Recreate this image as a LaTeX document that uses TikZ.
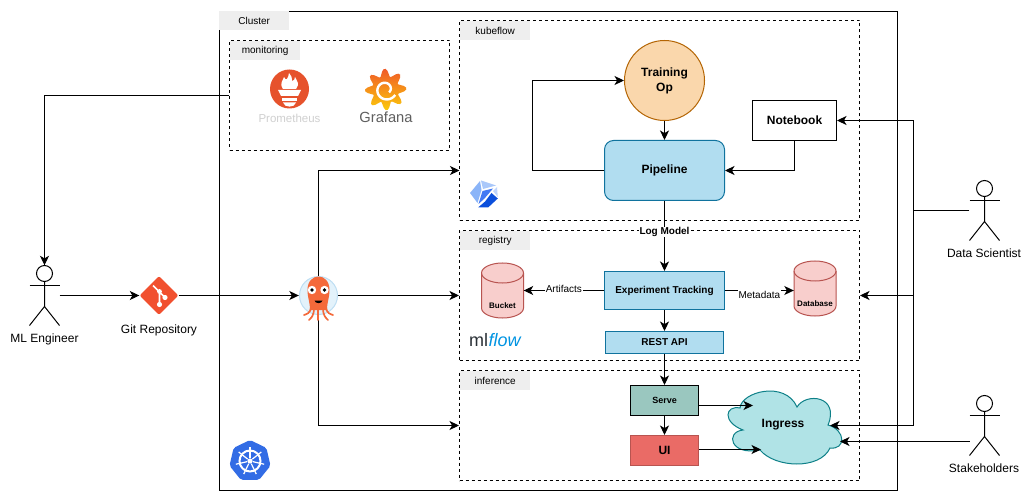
\documentclass[tikz,border=0pt]{standalone}
\usepackage{fontspec}
\setmainfont{Liberation Sans}
\usetikzlibrary{arrows.meta,shapes.geometric,calc}
\newcommand\fsz[1]{\fontsize{#1}{15}\selectfont}
\definecolor{tagbg}{HTML}{EEEEEE}
\definecolor{pipefill}{HTML}{B1DDF0}
\definecolor{pipeedge}{HTML}{10739E}
\definecolor{redfill}{HTML}{F8CECC}
\definecolor{redline}{HTML}{B85450}
\definecolor{cloudfill}{RGB}{176,227,230}
\definecolor{cloudedge}{RGB}{14,128,136}
\definecolor{trainfill}{RGB}{250,215,172}
\definecolor{trainedge}{RGB}{180,101,4}
\definecolor{servefill}{RGB}{154,199,191}
\definecolor{uifill}{RGB}{234,107,102}
\definecolor{gitred}{RGB}{241,80,47}
\definecolor{helmet}{RGB}{227,242,251}
\definecolor{helmetedge}{RGB}{190,222,243}
\definecolor{argoorange}{RGB}{244,105,58}
\definecolor{promred}{RGB}{230,82,44}
\definecolor{promtext}{RGB}{208,208,208}
\definecolor{grafred}{RGB}{240,90,40}
\definecolor{grafyellow}{RGB}{251,202,10}
\definecolor{graftext}{RGB}{95,95,95}
\definecolor{kfa}{RGB}{138,180,248}
\definecolor{kfb}{RGB}{170,200,250}
\definecolor{kfc}{RGB}{190,212,252}
\definecolor{kfd}{RGB}{66,121,244}
\definecolor{kfe}{RGB}{11,79,220}
\definecolor{kubeblue}{RGB}{50,108,229}
\definecolor{mlgrey}{HTML}{2B3137}
\definecolor{mlblue}{HTML}{0194E2}
\tikzset{
  conn/.style={draw=black,line width=1pt,-{Stealth[length=9.5pt,width=9pt,inset=2.6pt]}},
  plainline/.style={draw=black,line width=1pt},
  region/.style={draw=black,line width=1pt,dash pattern=on 3pt off 3pt,inner sep=0pt},
  tag/.style={fill=tagbg,minimum width=70pt,minimum height=19pt,inner sep=0pt,font=\fsz{10}},
  boxbase/.style={line width=1pt,inner sep=0pt,align=center},
  bluebox/.style={boxbase,fill=pipefill,draw=pipeedge},
  edgelabel/.style={fill=white,inner sep=1pt,font=\fsz{10}},
  caption/.style={font=\fsz{12},inner sep=0pt},
  actorbox/.style={minimum width=30pt,minimum height=60pt,inner sep=0pt},
  actorline/.style={draw=black,line width=1pt},
  cyl/.style={fill=redfill,draw=redline,line width=1pt},
}
% actor: name, centre x, top y
\newcommand\actorfig[3]{%
  \node[actorbox] (#1) at (#2,#3+30) {};
  \draw[actorline] (#2,#3+8) circle[radius=8pt];
  \draw[actorline] (#2-15,#3+20) -- (#2+15,#3+20);
  \draw[actorline] (#2,#3+16) -- (#2,#3+41) (#2-15,#3+60) -- (#2,#3+41) -- (#2+15,#3+60);
}
% cylinder: name, centre x, centre y, label
\newcommand\dbcyl[4]{%
  \node[minimum width=42pt,minimum height=55pt,inner sep=0pt] (#1) at (#2,#3) {};
  \draw[cyl] (#2-21,#3-17.5) arc[start angle=180,end angle=0,x radius=21pt,y radius=10pt]
     -- (#2+21,#3+17.5) arc[start angle=0,end angle=-180,x radius=21pt,y radius=10pt] -- cycle;
  \draw[cyl,fill=none] (#2-21,#3-17.5) arc[start angle=180,end angle=360,x radius=21pt,y radius=10pt];
  \node[font=\bfseries\fsz{8},inner sep=0pt] (#1text) at (#2,#3+15) {#4};
}
\begin{document}
\begin{tikzpicture}[x=1pt,y=-1pt]
\useasboundingbox (0,0) rectangle (1032,502);
\fill[white] (0,0) rectangle (1032,502);

% containers
\node[draw=black,line width=1pt,minimum width=678pt,minimum height=479pt,inner sep=0pt] (cluster) at (558.5,251) {};
\node[tag,anchor=north west] (clustertag) at (219,11) {Cluster};
\node[region,minimum width=220pt,minimum height=110pt] (monitoring) at (339.5,95.5) {};
\node[tag,anchor=north west] (monitoringtag) at (230,41) {monitoring};
\node[region,minimum width=400pt,minimum height=200pt] (kubeflow) at (659.5,120.5) {};
\node[tag,anchor=north west] (kubeflowtag) at (460,21) {kubeflow};
\node[region,minimum width=400pt,minimum height=130pt] (registry) at (659.5,295.5) {};
\node[tag,anchor=north west] (registrytag) at (460,231) {registry};
\node[region,minimum width=400pt,minimum height=110pt] (inference) at (659.5,425.5) {};
\node[tag,anchor=north west] (inferencetag) at (460,371) {inference};

% ingress cloud
\draw[fill=cloudfill,draw=cloudedge,line width=1pt]
  (740,408) .. controls (741,392) and (785,380) .. (797,407)
  .. controls (806,392) and (840,396) .. (828,425)
  .. controls (846,430) and (846,450) .. (830,448)
  .. controls (820,470) and (775,468) .. (760,450)
  .. controls (730,456) and (725,432) .. (743,430)
  .. controls (722,422) and (725,405) .. (740,408) -- cycle;
\node[font=\bfseries\fsz{12},inner sep=0pt] (ingress) at (783,425) {Ingress};
\coordinate (ingressA) at (753,405.5);
\coordinate (ingressB) at (761,449.5);
\coordinate (ingressC) at (830,425.5);
\coordinate (ingressD) at (840,441.5);

% nodes
\node[boxbase,circle,minimum size=80pt,fill=trainfill,draw=trainedge,font=\bfseries\fsz{12}] (training) at (664.5,80.5) {\raisebox{-1.5pt}{Training}\\\raisebox{-1.5pt}{Op}};
\node[bluebox,rounded corners=9pt,minimum width=120pt,minimum height=60pt,font=\bfseries\fsz{12}] (pipeline) at (664.5,170.5) {Pipeline};
\node[boxbase,draw=black,fill=white,minimum width=84pt,minimum height=40pt,font=\bfseries\fsz{12}] (notebook) at (794.5,120.5) {Notebook};
\node[bluebox,minimum width=120pt,minimum height=38pt,font=\bfseries\fsz{10}] (exp) at (664.5,290.5) {Experiment Tracking};
\node[bluebox,minimum width=118pt,minimum height=22pt,font=\bfseries\fsz{10}] (rest) at (664.5,342.5) {REST API};
\node[boxbase,draw=black,fill=servefill,minimum width=68pt,minimum height=30pt,font=\bfseries\fsz{9}] (serve) at (664.5,400.5) {Serve};
\node[boxbase,draw=redline,fill=uifill,minimum width=68pt,minimum height=30pt,font=\bfseries\fsz{12}] (ui) at (664.5,450.5) {UI};
\dbcyl{bucket}{502.5}{290.5}{Bucket}
\dbcyl{database}{815}{288.5}{Database}

\actorfig{ml}{44.5}{265.5}
\node[caption] (mltext) at (44.5,339) {ML Engineer};
\actorfig{ds}{984.5}{180.5}
\node[caption] (dstext) at (984,253) {Data Scientist};
\actorfig{sh}{984.5}{395.5}
\node[caption] (shtext) at (984,468) {Stakeholders};
\coordinate (shout) at (969.5,441.5);
\coordinate (dsj) at (913.5,210.5);
\coordinate (kubeflowin) at (459.5,170.5);

\node[diamond,fill=gitred,minimum size=39pt,inner sep=0pt,rounded corners=2pt] (git) at (159,295.5) {};
\node[caption] (gittext) at (159,330) {Git Repository};
\node[circle,minimum size=39pt,inner sep=0pt] (argo) at (318.5,295.5) {};

% connectors
\draw[conn] (monitoring.west) -| (ml.north);
\draw[conn] (ml.east) -- (git.west);
\draw[conn] (git.east) -- (argo.west);
\draw[conn] (argo.east) -- (registry.west);
\draw[conn] (argo.north) |- (kubeflowin);
\draw[conn] (argo.south) |- (inference.west);
\draw[conn] (training.south) -- (pipeline.north);
\draw[conn] (pipeline.west) -- ++(-72,0) |- (training.west);
\draw[conn] (notebook.south) |- (pipeline.east);
\draw[conn] (pipeline.south) -- node[edgelabel,font=\bfseries\fsz{10},inner sep=0.5pt,pos=.44] {Log Model} (exp.north);
\draw[conn] (exp.west) -- node[edgelabel,yshift=2pt] {Artifacts} (exp.west -| bucket.east);
\draw[conn] (exp.east) -- node[edgelabel,yshift=-4pt] {Metadata} (exp.east -| database.west);
\draw[conn] (exp.south) -- (rest.north);
\draw[conn] (rest.south) -- (serve.north);
\draw[conn] (serve.south) -- (ui.north);
\draw[conn] (serve.east |- ingressA) -- (ingressA);
\draw[conn] (ui.east |- ingressB) -- (ingressB);
\draw[plainline] (ds.west) -- (dsj);
\draw[conn] (dsj) |- (notebook.east);
\draw[conn] (dsj) |- (registry.east);
\draw[conn] (dsj) |- (ingressC);
\draw[conn] (shout) -- (ingressD);

% git logo
\draw[white,line width=1.6pt] (153,285.5) -- (165,297.5) (159.5,291.5) -- (159.5,304.5);
\fill[white] (165,297.5) circle[radius=2.6pt] (159.5,291.5) circle[radius=2.4pt] (159.5,304.5) circle[radius=2.6pt];

% argo logo
\fill[helmet] (argo.center) circle[radius=19pt];
\draw[helmetedge,line width=1pt] (argo.center) circle[radius=19pt];
\fill[argoorange] (307.5,290) .. controls (307.5,272) and (329.5,272) .. (329.5,290)
  .. controls (329.5,298) and (327,302) .. (327,310) -- (310,310) .. controls (310,302) and (307.5,298) .. (307.5,290) -- cycle;
\draw[argoorange,line width=1.7pt,line cap=round]
  (311,306) .. controls (311,314) and (306,314) .. (304,315)
  (314,308) .. controls (314,316) and (311,318) .. (309,320)
  (318,308) -- (318,320)
  (323,308) .. controls (323,316) and (326,318) .. (328,320)
  (326,306) .. controls (326,314) and (331,314) .. (333,315);
\fill[white] (312,290) circle[radius=4.2pt] (324.5,290) circle[radius=4.2pt];
\fill[black] (312,290) circle[radius=1.9pt] (324.5,290) circle[radius=1.9pt];
\fill[black] (314.5,300.5) .. controls (315,304) and (322,304) .. (322.5,300.5) -- cycle;

% prometheus logo
\fill[promred] (289.5,89) circle[radius=19.5pt];
\fill[white] (283,89) .. controls (279,83) and (283,81) .. (284,77) .. controls (285,79) and (286,80) .. (287,79)
  .. controls (288,77) and (289,75) .. (289,73) .. controls (291,76) and (293,78) .. (292,81)
  .. controls (294,81) and (295,79) .. (295,77) .. controls (297,81) and (300,84) .. (296,89) -- cycle;
\fill[white] (278,90) -- (301,90) -- (298,96) -- (281,96) -- cycle;
\fill[white] (282,98) rectangle (297,101);
\fill[white] (283,102.5) -- (296,102.5) .. controls (295,108) and (284,108) .. (283,102.5) -- cycle;
\node[font=\fsz{11.5},text=promtext,inner sep=0pt] (prometheus) at (289.5,118) {Prometheus};

% grafana logo
\shade[top color=grafred,bottom color=grafyellow]
  plot[smooth cycle,samples=64,domain=0:354.375] ({385.7+(17+3.8*cos(8*\x+20))*cos(\x)},{89.5+(17+3.8*cos(8*\x+20))*sin(\x)});
\draw[white,line width=2.4pt] plot[smooth,samples=40,domain=30:400] ({385.7+(11.5-\x*0.018)*cos(\x)},{89.5+(11.5-\x*0.018)*sin(\x)});
\node[font=\fsz{14.7},text=graftext,inner sep=0pt] (grafana) at (386,117) {Grafana};

% kubeflow logo
\fill[kfa] (470,193) -- (480,181) -- (481.5,190) -- (477.5,203) -- cycle;
\fill[kfb] (481,180.5) -- (496,185.5) -- (483,189) -- cycle;
\fill[kfc] (497,187) -- (497.8,197) -- (493,191) -- cycle;
\fill[kfd] (482.5,191) -- (493,188.5) -- (484.5,198.5) -- (478.5,204) -- cycle;
\fill[kfe] (491.5,193) -- (497.8,198.5) -- (488.3,207.3) -- (478.3,207.3) -- (485,201.6) -- cycle;

% kubernetes logo
\fill[kubeblue,rounded corners=2pt]
  (250,440) -- (266.4,447.9) -- (270.5,465.7) -- (259.1,479.9) -- (240.9,479.9) -- (229.5,465.7) -- (233.6,447.9) -- cycle;
\draw[white,line width=2pt] (250,461) circle[radius=10.5pt];
\fill[white] (250,461) circle[radius=2.6pt];
\foreach \a in {0,51.43,102.86,154.29,205.71,257.14,308.57} {
  \draw[white,line width=1.2pt] ({250+3*cos(\a-90)},{461+3*sin(\a-90)}) -- ({250+14.5*cos(\a-90)},{461+14.5*sin(\a-90)});
}

% mlflow
\node[font=\fsz{18},inner sep=0pt,anchor=west] (mlflow) at (469,340) {\textcolor{mlgrey}{ml}\kern0.5pt\textcolor{mlblue}{\textit{flow}}};
\end{tikzpicture}
\end{document}
